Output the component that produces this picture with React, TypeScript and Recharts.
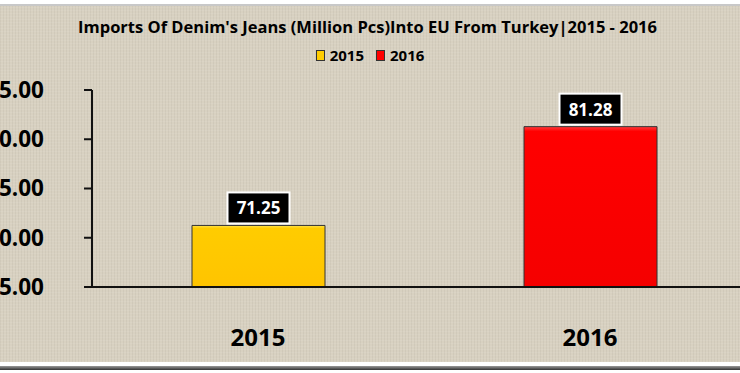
import { Bar, BarChart, Cell, LabelList, XAxis, YAxis } from 'recharts';

const years = ['2015', '2016'];
const imports = [71.25, 81.28];
const yTicks = [65, 70, 75, 80, 85];
const barFills = ['url(#grad2015)', 'url(#grad2016)'];
const legendColors = ['#ffcc00', '#ff0000'];

const data = years.map((year, i) => ({ year, value: imports[i] }));

const FONT = '"Open Sans", "Liberation Sans", sans-serif';

// black value tag with white frame sitting on top of each bar
const ValueTag = (props: any) => {
  const { x, y, width, value } = props;
  const cx = x + width / 2;
  const w = 62;
  const h = 31;
  return (
    <g>
      <rect x={cx - w / 2} y={y - h - 2} width={w} height={h} fill="#000" stroke="#fff" strokeWidth={2} />
      <text
        x={cx}
        y={y - h / 2 - 2}
        fill="#fff"
        fontSize={17}
        fontWeight={700}
        fontFamily={FONT}
        textAnchor="middle"
        dominantBaseline="central"
      >
        {Number(value).toFixed(2)}
      </text>
    </g>
  );
};

export default function App() {
  return (
    <div
      style={{
        position: 'fixed',
        left: 0,
        top: 0,
        width: 740,
        height: 373,
        overflow: 'hidden',
        background: '#fff',
        fontFamily: FONT,
      }}
    >
      <div style={{ position: 'absolute', left: 0, top: 4, width: 740, height: 2, background: '#c8c8c8' }} />
      <div
        style={{
          position: 'absolute',
          left: 0,
          top: 6,
          width: 740,
          height: 356,
          backgroundColor: '#d8d1c1',
          backgroundImage:
            'repeating-linear-gradient(0deg, rgba(255,255,255,0.07) 0px, rgba(255,255,255,0.07) 1px, transparent 1px, transparent 3px), repeating-linear-gradient(90deg, rgba(0,0,0,0.04) 0px, rgba(0,0,0,0.04) 1px, transparent 1px, transparent 3px)',
        }}
      />
      <div style={{ position: 'absolute', left: 0, top: 366, width: 740, height: 4, background: 'linear-gradient(#999, #333)' }} />

      <div
        style={{
          position: 'absolute',
          left: 0,
          top: 15,
          width: 735,
          textAlign: 'center',
          fontSize: 16.5,
          fontWeight: 700,
          color: '#000',
        }}
      >
        Imports Of Denim's Jeans (Million Pcs)Into EU From Turkey|2015 - 2016
      </div>

      <div
        style={{
          position: 'absolute',
          left: 0,
          top: 45,
          width: 740,
          display: 'flex',
          justifyContent: 'center',
          gap: 12,
          fontSize: 15,
          fontWeight: 700,
          color: '#000',
        }}
      >
        {years.map((y, i) => (
          <span key={y} style={{ display: 'flex', alignItems: 'center', gap: 5 }}>
            <span
              style={{
                display: 'inline-block',
                width: 7,
                height: 9,
                background: legendColors[i],
                border: '1px solid #333',
              }}
            />
            {y}
          </span>
        ))}
      </div>

      <div style={{ position: 'absolute', left: 0, top: 0 }}>
        <BarChart width={760} height={373} data={data} margin={{ top: 90, right: 4, bottom: 26, left: 0 }}>
          <defs>
            <linearGradient id="grad2015" x1="0" y1="0" x2="0" y2="1">
              <stop offset="0%" stopColor="#ffe24d" />
              <stop offset="5%" stopColor="#ffcc00" />
              <stop offset="100%" stopColor="#ffc400" />
            </linearGradient>
            <linearGradient id="grad2016" x1="0" y1="0" x2="0" y2="1">
              <stop offset="0%" stopColor="#ff3b3b" />
              <stop offset="3%" stopColor="#ff0000" />
              <stop offset="100%" stopColor="#f50000" />
            </linearGradient>
          </defs>
          <XAxis
            dataKey="year"
            height={60}
            tickLine={false}
            axisLine={{ stroke: '#111', strokeWidth: 2 }}
            tickMargin={36}
            tick={{ fill: '#000', fontSize: 24, fontWeight: 700, fontFamily: FONT }}
          />
          <YAxis
            width={92}
            domain={[65, 85]}
            ticks={yTicks}
            interval={0}
            allowDataOverflow
            tickSize={8}
            tickMargin={40}
            tickLine={{ stroke: '#111', strokeWidth: 2 }}
            axisLine={{ stroke: '#111', strokeWidth: 2 }}
            tickFormatter={(v: number) => v.toFixed(2)}
            tick={{ fill: '#000', fontSize: 22.5, fontWeight: 700, fontFamily: FONT }}
          />
          <Bar dataKey="value" barSize={133} stroke="#333" strokeWidth={1} isAnimationActive={false}>
            {data.map((d, i) => (
              <Cell key={d.year} fill={barFills[i]} />
            ))}
            <LabelList dataKey="value" content={ValueTag} />
          </Bar>
        </BarChart>
      </div>
    </div>
  );
}
